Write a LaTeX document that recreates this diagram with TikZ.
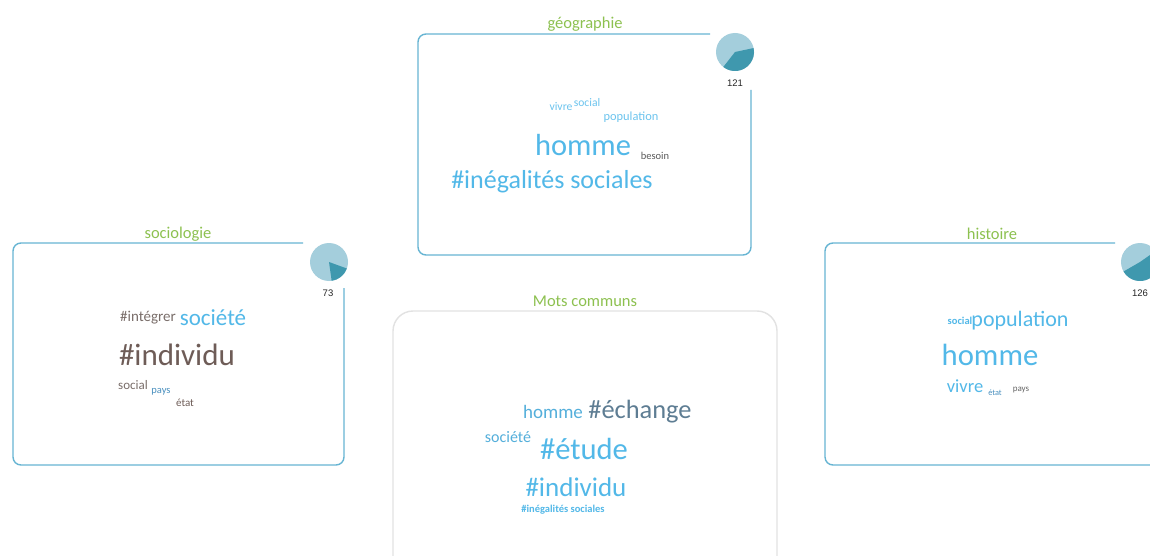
\documentclass[tikz,border=0pt]{standalone}
\usepackage{fontspec}
\setmainfont{Carlito}
\newfontfamily\numfont{Liberation Sans}
\definecolor{ttlgreen}{HTML}{8DC150}
\definecolor{boxblue}{HTML}{67B5D3}
\definecolor{boxgrey}{HTML}{E2E2E2}
\definecolor{pielight}{HTML}{A4CEDC}
\definecolor{piedark}{HTML}{3F98AE}
\definecolor{wblue}{HTML}{52B8E8}
\definecolor{wlblue}{HTML}{6CC4EE}
\definecolor{wslate}{HTML}{5E7D93}
\definecolor{wbrown}{HTML}{6E5C57}
\definecolor{wgrey}{HTML}{7A6E6A}
\definecolor{wmblue}{HTML}{4A90BF}
\newcommand{\fsz}[1]{\fontsize{#1}{#1}\selectfont}
\tikzset{
  ttl/.style={text=ttlgreen, inner sep=0pt, font=\fsz{16.5}},
  cnt/.style={text=black!85, inner sep=0pt, font=\numfont\fsz{9.5}},
  wd/.style={inner sep=0pt},
  panel/.style={draw=boxblue, line width=1.4pt, rounded corners=8pt},
  common/.style={draw=boxgrey, line width=1.4pt, rounded corners=20pt},
}
\newcommand{\piechart}[4]{%
  \fill[pielight] (#1) circle (19);
  \fill[piedark] (#1) -- ++(#2:19) arc[start angle=#2, end angle=#3, radius=19] -- cycle;
}
\begin{document}
\begin{tikzpicture}[x=1pt,y=1pt]
\useasboundingbox (0,0) rectangle (1150,555);
\clip (0,0) rectangle (1150,555);
\fill[white] (0,0) rectangle (1150,555);

% ---------- géographie ----------
\draw[panel] (710,521) -- (418,521) -- (418,300) -- (751,300) -- (751,465);
\node[ttl] (tgeo) at (585,531) {géographie};
\coordinate (pgeo) at (735,503);
\piechart{pgeo}{-128}{12}{}
\node[cnt] (cgeo) at (735,472) {121};
\node[wd, text=wlblue, font=\fsz{11.7}] (g1) at (561,448) {vivre};
\node[wd, text=wlblue, font=\fsz{11.6}] (g2) at (587,452) {social};
\node[wd, text=wlblue, font=\fsz{12.4}] (g3) at (631,438) {population};
\node[wd, text=wblue, font=\fsz{30.5}] (g4) at (583,410) {homme};
\node[wd, text=black!65, font=\fsz{10.5}] (g5) at (655,399) {besoin};
\node[wd, text=wblue, font=\fsz{26}] (g6) at (552,373) {\#inégalités sociales};

% ---------- sociologie ----------
\draw[panel] (303,312) -- (13,312) -- (13,90) -- (344,90) -- (344,267);
\node[ttl] (tsoc) at (178,321) {sociologie};
\coordinate (psoc) at (329,293);
\piechart{psoc}{-82}{-20}{}
\node[cnt] (csoc) at (328,262) {73};
\node[wd, text=wgrey, font=\fsz{15}] (s1) at (148,237) {\#intégrer};
\node[wd, text=wblue, font=\fsz{23}] (s2) at (213,237) {société};
\node[wd, text=wbrown, font=\fsz{31}] (s3) at (177,200) {\#individu};
\node[wd, text=wgrey, font=\fsz{13}] (s4) at (133,170) {social};
\node[wd, text=wmblue, font=\fsz{10.5}] (s5) at (161,163) {pays};
\node[wd, text=wbrown, font=\fsz{11}] (s6) at (185,152) {état};

% ---------- histoire ----------
\draw[panel] (1115,312) -- (825,312) -- (825,90) -- (1160,90) -- (1160,267);
\node[ttl] (this) at (992,321) {histoire};
\coordinate (phis) at (1140,293);
\piechart{phis}{-150}{35}{}
\node[cnt] (chis) at (1140,262) {126};
\node[wd, text=wblue, font=\bfseries\fsz{10.5}] (h1) at (960,234) {social};
\node[wd, text=wblue, font=\fsz{22}] (h2) at (1020,234) {population};
\node[wd, text=wblue, font=\fsz{30.7}] (h3) at (990,200) {homme};
\node[wd, text=wblue, font=\fsz{18.5}] (h4) at (965,169) {vivre};
\node[wd, text=wmblue, font=\fsz{8.3}] (h5) at (995,162) {état};
\node[wd, text=black!60, font=\fsz{9}] (h6) at (1021,165) {pays};

% ---------- Mots communs ----------
\draw[common] (393,-20) -- (393,244) -- (777,244) -- (777,-20);
\node[ttl] (tcom) at (585,254) {Mots communs};
\node[wd, text=wblue!85!wslate, font=\fsz{19}] (m1) at (553,143) {homme};
\node[wd, text=wslate, font=\fsz{26.4}] (m2) at (640,143) {\#échange};
\node[wd, text=wblue!85!wslate, font=\fsz{16}] (m3) at (508,118) {société};
\node[wd, text=wblue, font=\fsz{30.6}] (m4) at (584,106) {\#étude};
\node[wd, text=wblue, font=\fsz{27}] (m5) at (576,68) {\#individu};
\node[wd, text=wblue, font=\bfseries\fsz{10.5}] (m6) at (563,45) {\#inégalités sociales};
\end{tikzpicture}
\end{document}
